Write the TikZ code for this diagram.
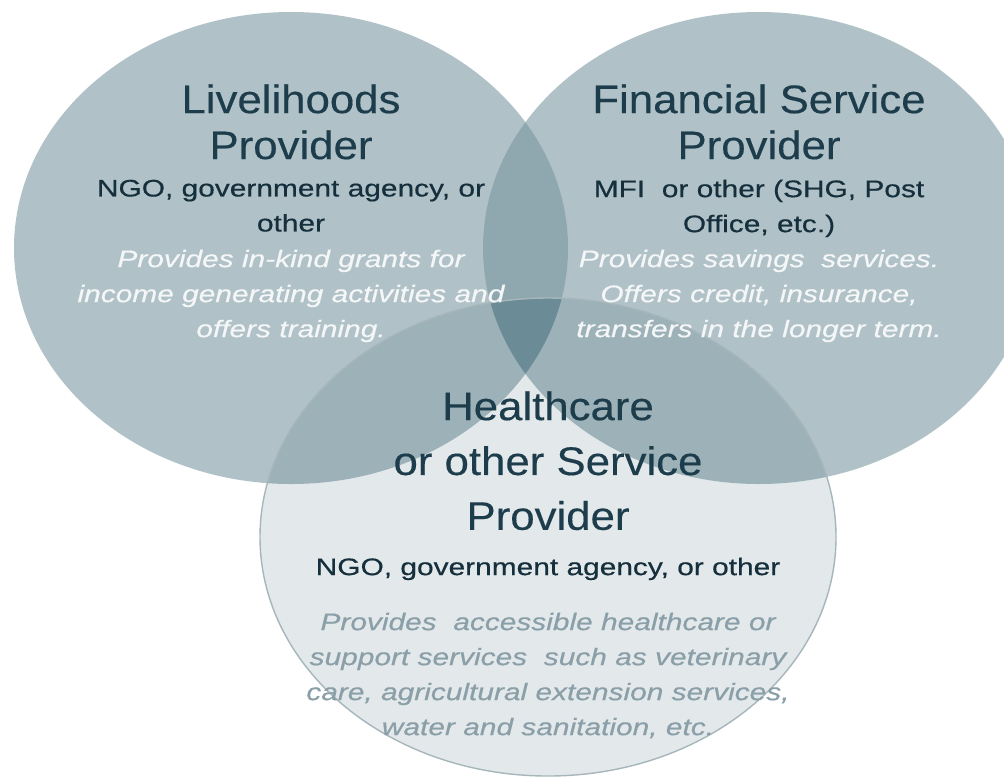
\documentclass[tikz,border=0pt]{standalone}
\usepackage{fontspec}
\setmainfont{Liberation Sans}
\newfontfamily\headfont[FakeStretch=1.1, FakeBold=0.3]{Liberation Sans}
\newfontfamily\bodyfont[FakeStretch=1.25, FakeBold=0.5]{Liberation Sans}

\definecolor{ringfill}{HTML}{B0C2C7}
\definecolor{lensfill}{HTML}{8FA8B0}
\definecolor{corefill}{HTML}{6B8C96}
\definecolor{pairfill}{HTML}{9CB1B8}
\definecolor{lowfill}{HTML}{E3E9EB}
\definecolor{lowline}{HTML}{A6B6BB}
\definecolor{headtext}{HTML}{1E3D4C}
\definecolor{orgtext}{HTML}{152F3C}
\definecolor{desctext}{HTML}{F4F6F7}
\definecolor{lowdesc}{HTML}{8A9FA8}

\tikzset{
  head/.style={anchor=north, inner sep=0pt, align=center, text=headtext,
    font=\headfont\fontsize{28.3}{32.7}\selectfont},
  org/.style={anchor=north, inner sep=0pt, align=center, text=orgtext,
    font=\bodyfont\fontsize{17}{24.9}\selectfont},
  desc/.style={anchor=north, inner sep=0pt, align=center, text=desctext,
    font=\bodyfont\itshape\fontsize{17}{24.9}\selectfont}
}

\begin{document}
\begin{tikzpicture}[x=0.025cm, y=-0.025cm]

\clip (0,0) rectangle (1004,778);
\fill[white] (0,0) rectangle (1004,778);

% upper circles
\fill[ringfill] (291,248) ellipse (277 and 236);
\fill[ringfill] (759,248) ellipse (276 and 236);
\begin{scope}
\clip (291,248) ellipse (277 and 236);
\fill[lensfill] (759,248) ellipse (276 and 236);
\end{scope}

% lower circle
\fill[lowfill] (548,537) ellipse (288 and 239);
\begin{scope}
\clip (548,537) ellipse (288 and 239);
\fill[pairfill] (291,248) ellipse (277 and 236);
\fill[pairfill] (759,248) ellipse (276 and 236);
\clip (291,248) ellipse (277 and 236);
\fill[corefill] (759,248) ellipse (276 and 236);
\end{scope}
\draw[lowline, line width=1pt] (548,537) ellipse (288 and 239);

% texts
\node[head] (lvHead) at (291,84) {Livelihoods\\Provider};
\node[org] (lvOrg) at (291,179.5) {NGO, government agency, or\\other};
\node[desc] (lvDesc) at (291,249.5) {Provides in-kind grants for\\income generating activities and\\offers training.};

\node[head] (fsHead) at (759,84) {Financial Service\\Provider};
\node[org] (fsOrg) at (759,179.5) {MFI~ or other (SHG, Post\\Office, etc.)};
\node[desc] (fsDesc) at (759,249.5) {Provides savings~ services.\\Offers credit, insurance,\\transfers in the longer term.};

\node[head, font=\headfont\fontsize{28.3}{39}\selectfont] (hcHead) at (548,391) {Healthcare\\or other Service\\Provider};
\node[org] (hcOrg) at (548,557.5) {NGO, government agency, or other};
\node[desc, text=lowdesc] (hcDesc) at (548,612.5) {Provides~ accessible healthcare or\\support services~ such as veterinary\\care, agricultural extension services,\\water and sanitation, etc.};

\end{tikzpicture}
\end{document}
